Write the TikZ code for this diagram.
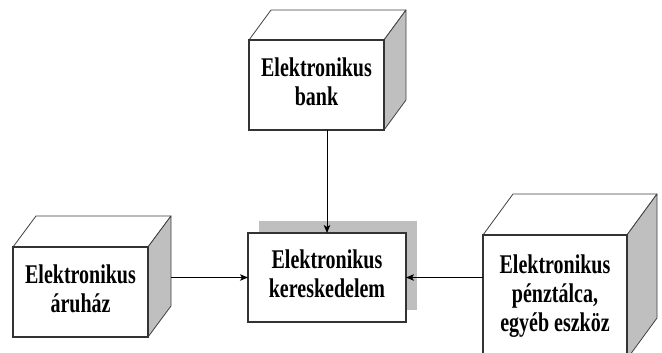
\documentclass[tikz,border=0pt]{standalone}
\usepackage{fontspec}
\setmainfont{Liberation Serif}
\usetikzlibrary{arrows.meta,calc,shadows}

% bold, slightly tall box captions
\newcommand\bxtext[1]{\scalebox{1}[1.35]{\fontsize{20}{21.5}\selectfont\bfseries
  \begin{tabular}{@{}c@{}}#1\end{tabular}}}

% top and side faces of a 3D box behind the front node #1, depth (#2,#3)
\newcommand\depthfaces[3]{%
  \path[edge3d, fill=white] (#1.north west) -- ++(#2,#3)
     -- ($(#1.north east)+(#2,#3)$) -- (#1.north east) -- cycle;
  \path[side3d] (#1.north east) -- ++(#2,#3)
     -- ($(#1.south east)+(#2,#3)$) -- (#1.south east) -- cycle;
  \draw[face, fill=none] (#1.north west) rectangle (#1.south east);}

\tikzset{
  face/.style={draw=black!80, line width=1.6pt, fill=white, inner sep=0pt, outer sep=0pt},
  edge3d/.style={draw=black!75, line width=0.8pt, line join=round},
  side3d/.style={edge3d, fill=black!25},
  link/.style={draw=black, line width=1pt, -{Stealth[length=8pt,width=6.5pt,inset=2pt]}},
}

\begin{document}
\begin{tikzpicture}[x=1pt, y=1pt]
  \useasboundingbox (0,0) rectangle (662,353);

  % central box with offset shadow
  \node[face, minimum width=158pt, minimum height=89pt,
        general shadow={fill=black!25, shadow xshift=10.5pt, shadow yshift=11.5pt}]
        (keres) at (327,75.5) {\bxtext{Elektronikus\\kereskedelem}};

  % 3D boxes
  \node[face, minimum width=135pt, minimum height=90pt] (bank) at (316.5,268)
        {\bxtext{Elektronikus\\bank}};
  \depthfaces{bank}{22}{30}

  \node[face, minimum width=135pt, minimum height=90pt] (aruhaz) at (80.5,61)
        {\bxtext{Elektronikus\\áruház}};
  \depthfaces{aruhaz}{23}{31}

  \node[face, minimum width=144pt, minimum height=124pt] (penz) at (555,56)
        {\bxtext{Elektronikus\\pénztálca,\\egyéb eszköz}};
  \depthfaces{penz}{30}{41}

  % back edge of the left box, where its connector starts
  \coordinate (aruhazback) at ($(aruhaz.east)+(23,0)$);

  % connectors
  \draw[link] (bank.south -| keres.north) -- (keres.north);
  \draw[link] (aruhazback |- keres.west) -- (keres.west);
  \draw[link] (penz.west |- keres.east) -- (keres.east);
\end{tikzpicture}
\end{document}
